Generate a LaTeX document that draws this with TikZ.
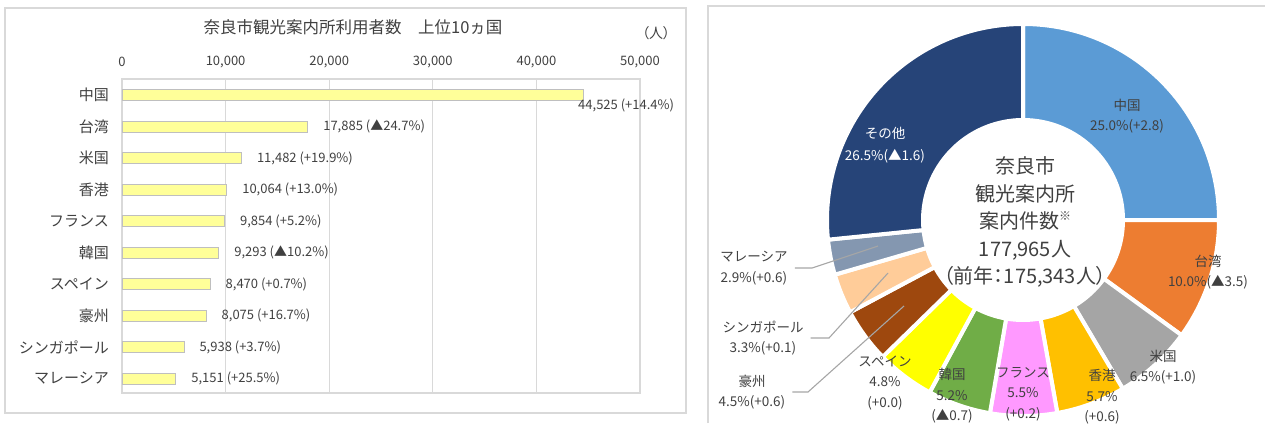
\documentclass[tikz,border=0pt]{standalone}
\usepackage{fontspec}
\setmainfont{Noto Sans CJK JP}
\newfontfamily\jpprop[RawFeature=+palt]{Noto Sans CJK JP}
\usetikzlibrary{positioning}
\definecolor{txt}{HTML}{404040}
\definecolor{boxgray}{HTML}{D9D9D9}
\definecolor{bargray}{HTML}{BFBFBF}
\definecolor{baryel}{HTML}{FFFF99}
\definecolor{leadgray}{HTML}{A6A6A6}
\definecolor{cnblue}{HTML}{5B9BD5}
\definecolor{twor}{HTML}{ED7D31}
\definecolor{usgray}{HTML}{A5A5A5}
\definecolor{hkgold}{HTML}{FFC000}
\definecolor{frpink}{HTML}{FF99FF}
\definecolor{krgreen}{HTML}{70AD47}
\definecolor{esyel}{HTML}{FFFF00}
\definecolor{aubrown}{HTML}{9E480E}
\definecolor{sgpeach}{HTML}{FFCC99}
\definecolor{myblue}{HTML}{8497B0}
\definecolor{etcnavy}{HTML}{264478}
\tikzset{hbar/.style={draw=bargray, fill=baryel, line width=0.8pt, minimum height=11pt, inner sep=0pt, anchor=west},
  ctry/.style={font=\fontsize{15}{16}\selectfont, text=txt, inner sep=0pt},
  val/.style={font=\fontsize{13}{14}\selectfont, text=txt, inner sep=0pt, anchor=west},
  tick/.style={font=\fontsize{13}{14}\selectfont, text=txt, inner sep=0pt},
  gridln/.style={draw=boxgray, line width=1.2pt},
  pielbl/.style={font=\fontsize{13.5}{20.5}\selectfont, text=txt, align=center, inner sep=1pt},
  outlbl/.style={pielbl, inner xsep=7pt},
  leader/.style={draw=leadgray, line width=1.1pt}}
\newcommand{\donutpart}[3]{%
  \fill[#3, draw=white, line width=4pt] (#1:196) arc[start angle=#1, end angle=#2, radius=196]
    -- (#2:100) arc[start angle=#2, end angle=#1, radius=100] -- cycle;}

\begin{document}
\begin{tikzpicture}[x=1pt, y=-1pt]
\useasboundingbox (0,0) rectangle (1265,423);
% left panel: bar chart
\draw[gridln] (5,8) rectangle (686,413);
\node[font=\fontsize{16.5}{17}\selectfont, text=txt] (title) at (353,27) {奈良市観光案内所利用者数　上位10ヵ国};
\node[tick, font=\fontsize{14}{14}\selectfont\jpprop] (unit) at (656,33) {（人）};
\draw[gridln] (122,79) rectangle (640,393);
\draw[gridln] (225.6,79) -- (225.6,393) (329.2,79) -- (329.2,393)
  (432.8,79) -- (432.8,393) (536.4,79) -- (536.4,393);
\node[tick] (t0) at (122,62) {0};
\node[tick] (t1) at (225.6,62) {10,000};
\node[tick] (t2) at (329.2,62) {20,000};
\node[tick] (t3) at (432.8,62) {30,000};
\node[tick] (t4) at (536.4,62) {40,000};
\node[tick] (t5) at (640,62) {50,000};

\node[hbar, minimum width=461.3pt] (cn) at (122,95) {};
\node[hbar, minimum width=185.3pt] (tw) at (122,126.5) {};
\node[hbar, minimum width=119.0pt] (us) at (122,158) {};
\node[hbar, minimum width=104.3pt] (hk) at (122,189.5) {};
\node[hbar, minimum width=102.1pt] (fr) at (122,221) {};
\node[hbar, minimum width=96.3pt] (kr) at (122,252.5) {};
\node[hbar, minimum width=87.7pt] (es) at (122,284) {};
\node[hbar, minimum width=83.7pt] (au) at (122,315.5) {};
\node[hbar, minimum width=61.5pt] (sg) at (122,347) {};
\node[hbar, minimum width=53.4pt] (my) at (122,378.5) {};

\node[ctry, left=13pt of cn] (cnl) {中国};
\node[ctry, left=13pt of tw] (twl) {台湾};
\node[ctry, left=13pt of us] (usl) {米国};
\node[ctry, left=13pt of hk] (hkl) {香港};
\node[ctry, left=13pt of fr] (frl) {フランス};
\node[ctry, left=13pt of kr] (krl) {韓国};
\node[ctry, left=13pt of es] (esl) {スペイン};
\node[ctry, left=13pt of au] (aul) {豪州};
\node[ctry, left=13pt of sg] (sgl) {シンガポール};
\node[ctry, left=13pt of my] (myl) {マレーシア};

\node[val] (cnv) at (578,105) {44,525 (+14.4\%)};
\node[val, right=15pt of tw] (twv) {17,885 (▲24.7\%)};
\node[val, right=15pt of us] (usv) {11,482 (+19.9\%)};
\node[val, right=15pt of hk] (hkv) {10,064 (+13.0\%)};
\node[val, right=15pt of fr] (frv) {9,854 (+5.2\%)};
\node[val, right=15pt of kr] (krv) {9,293 (▲10.2\%)};
\node[val, right=15pt of es] (esv) {8,470 (+0.7\%)};
\node[val, right=15pt of au] (auv) {8,075 (+16.7\%)};
\node[val, right=15pt of sg] (sgv) {5,938 (+3.7\%)};
\node[val, right=15pt of my] (myv) {5,151 (+25.5\%)};

% right panel: donut
\draw[gridln] (708,423) -- (708,6) -- (1265,6);
\begin{scope}[shift={(1023,220)}]
  \donutpart{-90}{0}{cnblue}
  \donutpart{0}{36}{twor}
  \donutpart{36}{59.4}{usgray}
  \donutpart{59.4}{79.92}{hkgold}
  \donutpart{79.92}{99.72}{frpink}
  \donutpart{99.72}{118.44}{krgreen}
  \donutpart{118.44}{135.72}{esyel}
  \donutpart{135.72}{151.92}{aubrown}
  \donutpart{151.92}{163.8}{sgpeach}
  \donutpart{163.8}{174.24}{myblue}
  \donutpart{174.24}{270}{etcnavy}
\end{scope}

\node[align=center, text=txt, font=\fontsize{20}{27.5}\selectfont\jpprop] (total) at (1025,222)
  {奈良市\\観光案内所\\案内件数\raisebox{0.4em}{\fontsize{12}{12}\selectfont ※}\\177,965人\\（前年：175,343人）};

\node[pielbl] (cnp) at (1127,116) {中国\\25.0\%(+2.8)};
\node[pielbl, text=white, font=\fontsize{13.5}{22}\selectfont] (etcp) at (885,145) {その他\\26.5\%(▲1.6)};
\node[pielbl] (twp) at (1208,272) {台湾\\10.0\%(▲3.5)};
\node[pielbl] (usp) at (1163,367) {米国\\6.5\%(+1.0)};
\node[pielbl] (hkp) at (1102,397) {香港\\5.7\%\\(+0.6)};
\node[pielbl] (frp) at (1023,394) {フランス\\5.5\%\\(+0.2)};
\node[pielbl] (krp) at (952,396) {韓国\\5.2\%\\(▲0.7)};
\node[pielbl] (esp) at (885,383) {スペイン\\4.8\%\\(+0.0)};
\node[outlbl] (myp) at (754,268) {マレーシア\\2.9\%(+0.6)};
\node[outlbl] (sgp) at (763,338) {シンガポール\\3.3\%(+0.1)};
\node[outlbl] (aup) at (752,392) {豪州\\4.5\%(+0.6)};

\coordinate (myin) at (878,246);
\coordinate (myknee) at (812,268);
\coordinate (sgin) at (888,273);
\coordinate (sgknee) at (829,338);
\coordinate (auin) at (904,306);
\coordinate (auknee) at (808,392);
\draw[leader] (myin) -- (myknee) -- (myp.east);
\draw[leader] (sgin) -- (sgknee) -- (sgp.east);
\draw[leader] (auin) -- (auknee) -- (aup.east);
\end{tikzpicture}
\end{document}
